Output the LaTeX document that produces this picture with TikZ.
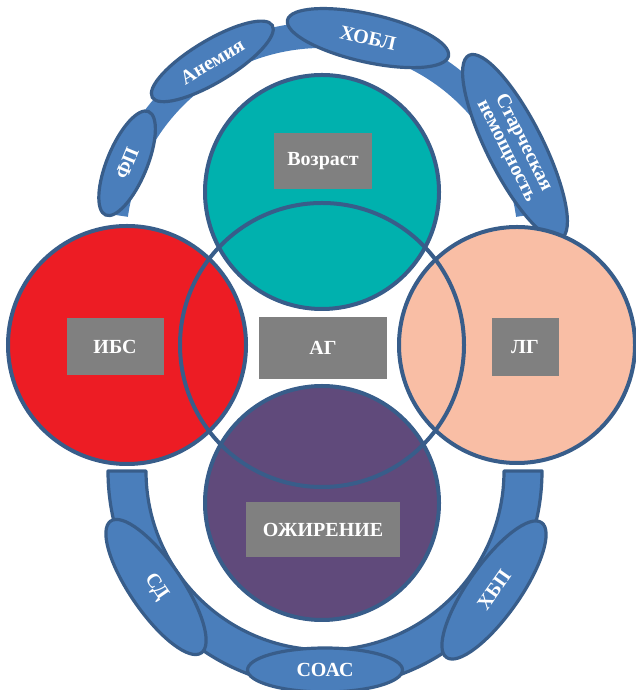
\documentclass[tikz,border=0pt]{standalone}
\usepackage{fontspec}
\setmainfont{Liberation Serif}
\usetikzlibrary{shapes.geometric}
\definecolor{ringblue}{HTML}{4A7EBB}
\definecolor{edgeblue}{HTML}{385D8A}
\definecolor{tealfill}{HTML}{00B1AE}
\definecolor{redfill}{HTML}{ED1C24}
\definecolor{peachfill}{HTML}{F9BEA5}
\definecolor{plumfill}{HTML}{604A7B}
\definecolor{boxgray}{HTML}{808080}
\tikzset{
  topband/.style={line width=26pt, draw=ringblue, line cap=butt},
  lowband/.style={fill=ringblue, draw=edgeblue, line width=3.2pt, line join=round},
  pill/.style={ellipse, fill=ringblue, draw=edgeblue, line width=3.2pt, inner sep=0pt, text=white, font=\bfseries\fontsize{20}{19}\selectfont, align=center},
  bigdisc/.style={draw=edgeblue, line width=4pt},
  tagbox/.style={fill=boxgray, text=white, inner sep=0pt, font=\bfseries\fontsize{20}{22}\selectfont},
}

\begin{document}
\begin{tikzpicture}[x=1pt,y=1pt]
\useasboundingbox (0,0) rectangle (636,690);
% bands
\draw[topband, shift={(322,446)}] (8:209) arc[start angle=8, end angle=172, radius=209];
\draw[lowband] (108,219) arc[start angle=180, end angle=360, radius=217] -- (504,219) arc[start angle=360, end angle=180, radius=179] -- cycle;
% comorbidities
\node[pill, minimum width=112, minimum height=40, rotate=67.5] (fp) at (127.1,526.7) {ФП};
\node[pill, minimum width=140, minimum height=42, rotate=31] (anemia) at (212.3,628.6) {Анемия};
\node[pill, minimum width=165, minimum height=48, rotate=-12.6] (copd) at (368.0,651.9) {ХОБЛ};
\node[pill, minimum width=205, minimum height=56, rotate=-63.3] (frail) at (515.0,543.1) {Старческая\\немощность};
\node[pill, minimum width=160, minimum height=52, rotate=-55.5] (dm) at (156,103) {СД};
\node[pill, minimum width=155, minimum height=44] (osas) at (325,20) {СОАС};
\node[pill, minimum width=165, minimum height=52, rotate=54.8] (ckd) at (494,100) {ХБП};
% circles
\draw[bigdisc, fill=tealfill] (322,498) circle[radius=117];
\draw[bigdisc, fill=redfill] (127,345) circle[radius=119];
\draw[bigdisc, fill=peachfill] (517,345) circle[radius=118];
\draw[bigdisc, fill=plumfill] (322,187) circle[radius=117];
\draw[bigdisc] (322,345) circle[radius=142];
% labels
\node[tagbox, minimum width=98, minimum height=56] (age) at (323,529) {Возраст};
\node[tagbox, minimum width=97, minimum height=57] (ihd) at (115,343) {ИБС};
\node[tagbox, minimum width=128, minimum height=62] (ah) at (323,342) {АГ};
\node[tagbox, minimum width=67, minimum height=58] (lg) at (525,343) {ЛГ};
\node[tagbox, minimum width=154, minimum height=55] (obesity) at (323,160) {ОЖИРЕНИЕ};
\end{tikzpicture}
\end{document}
